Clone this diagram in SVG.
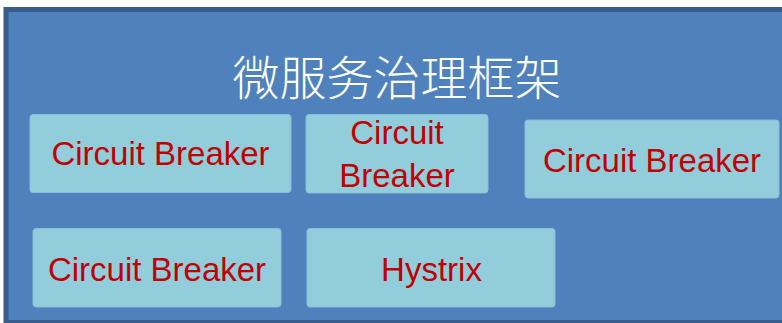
<svg xmlns="http://www.w3.org/2000/svg" width="782" height="323" viewBox="0 0 782 323">
<style>
.box{fill:#92cddc;stroke:#86c0d8;stroke-width:1}
.lbl{font-family:"Liberation Sans",Arial,sans-serif;font-size:33px;fill:#c00000;text-anchor:middle}
.title{font-family:"Noto Sans CJK SC","Noto Sans",sans-serif;font-size:47px;font-weight:300;fill:#ffffff;text-anchor:middle}
</style>
<rect x="0" y="0" width="782" height="323" fill="#ffffff"/>
<g id="frame">
<rect x="6" y="9.5" width="800" height="313" fill="#4f81bd" stroke="#385d8a" stroke-width="5"/>
<text class="title" x="397" y="95">微服务治理框架</text>
</g>
<g id="cb1">
<rect class="box" x="30" y="114.5" width="261" height="78" rx="3"/>
<text class="lbl" x="160.5" y="165">Circuit Breaker</text>
</g>
<g id="cb2">
<rect class="box" x="306" y="114.5" width="182" height="78.5" rx="3"/>
<text class="lbl" x="397" y="144">Circuit</text>
<text class="lbl" x="397" y="187">Breaker</text>
</g>
<g id="cb3">
<rect class="box" x="525" y="120" width="254" height="78" rx="3"/>
<text class="lbl" x="652" y="172">Circuit Breaker</text>
</g>
<g id="cb4">
<rect class="box" x="33" y="228.5" width="248" height="78.5" rx="3"/>
<text class="lbl" x="157" y="281">Circuit Breaker</text>
</g>
<g id="hystrix">
<rect class="box" x="307" y="228.5" width="248" height="78.5" rx="3"/>
<text class="lbl" x="431.5" y="281">Hystrix</text>
</g>
<g id="connectors"></g>
</svg>
